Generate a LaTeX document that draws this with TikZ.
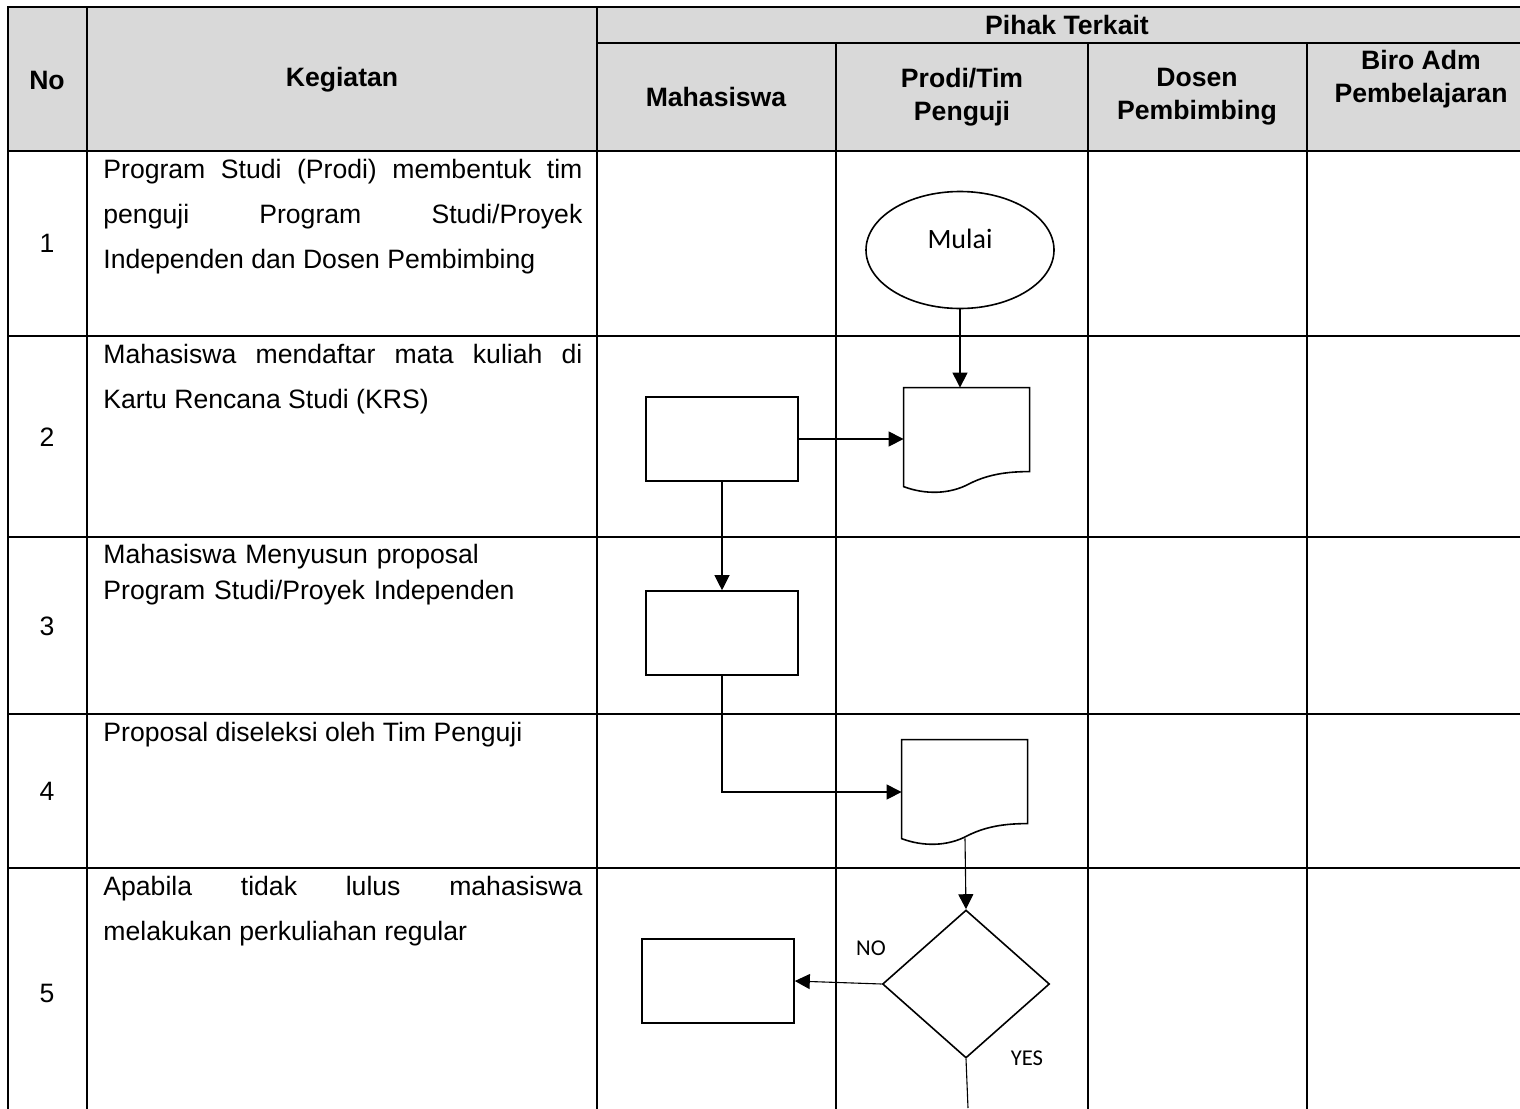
\documentclass[tikz,border=0pt]{standalone}
\usepackage{fontspec}
\setmainfont{Liberation Sans}
\newfontfamily\calibri{Carlito}
\usetikzlibrary{shapes.geometric,arrows.meta}
\definecolor{headgray}{HTML}{D9D9D9}
\tolerance=10000
\hbadness=10000

% document symbol drawn round an empty node
\newcommand{\dokumen}[1]{%
  \draw[shapeline, shift={(#1.north west)}] (0,0) -- (126,0) -- (126,84)
    .. controls (106,84) and (86,86) .. (66,96)
    .. controls (46,107) and (21,107) .. (0,99) -- cycle;}

\begin{document}
\begin{tikzpicture}[x=0.5pt, y=-0.5pt,
    tabline/.style = {line width=1pt, line cap=rect},
    shapeline/.style = {draw, line width=0.8pt},
    arr/.style = {line width=0.55pt, -{Triangle[length=7.5pt,width=7.5pt]}},
    proc/.style = {shapeline, rectangle, minimum width=76pt, minimum height=42pt, inner sep=0pt},
    dok/.style = {rectangle, minimum width=63pt, minimum height=52pt, inner sep=0pt},
    terminal/.style = {shapeline, ellipse, minimum width=94pt, minimum height=58.5pt, inner sep=0pt, font=\calibri\fontsize{14}{16}\selectfont},
    decide/.style = {shapeline, diamond, minimum width=83.5pt, minimum height=74pt, inner sep=0pt},
    head/.style = {font=\bfseries\fontsize{13.3}{16.5}\selectfont, align=center},
    num/.style = {font=\fontsize{13.3}{16}\selectfont},
    kegiatan/.style = {anchor=base west, text width=239.5pt, align=justify, inner sep=0pt, font=\fontsize{13.3}{22.5}\selectfont},
    flag/.style = {font=\calibri\fontsize{11.3}{13}\selectfont}]
  \useasboundingbox (0,0) rectangle (1520,1108);

  % table
  \fill[headgray] (8,7) rectangle (1520,151);
  \draw[tabline] (8,7) -- (1520,7);
  \draw[tabline] (597,43) -- (1520,43);
  \draw[tabline] (8,151) -- (1520,151);
  \draw[tabline] (8,336) -- (1520,336);
  \draw[tabline] (8,537) -- (1520,537);
  \draw[tabline] (8,714) -- (1520,714);
  \draw[tabline] (8,868) -- (1520,868);
  \draw[tabline] (8,7) -- (8,1108);
  \draw[tabline] (87,7) -- (87,1108);
  \draw[tabline] (597,7) -- (597,1108);
  \draw[tabline] (836,43) -- (836,1108);
  \draw[tabline] (1088,43) -- (1088,1108);
  \draw[tabline] (1307,43) -- (1307,1108);

  \node[head] (no) at (47,80) {No};
  \node[head] (keg) at (342,80) {Kegiatan};
  \node[head] (pihak) at (1067,25) {Pihak Terkait};
  \node[head] (mhs) at (716,97) {Mahasiswa};
  \node[head] (prodi) at (962,97) {Prodi/Tim\\Penguji};
  \node[head] (dosen) at (1197,97) {Dosen\\Pembimbing};
  \node[head] (biro) at (1421,79) {Biro Adm\\Pembelajaran};

  \node[num] (n1) at (47,243) {1};
  \node[num] (n2) at (47,437) {2};
  \node[num] (n3) at (47,626) {3};
  \node[num] (n4) at (47,791) {4};
  \node[num] (n5) at (47,993) {5};

  \node[kegiatan] (k1) at (103,178) {Program Studi (Prodi) membentuk tim\linebreak penguji Program Studi/Proyek\linebreak Independen dan Dosen Pembimbing};
  \node[kegiatan] (k2) at (103,363) {Mahasiswa mendaftar mata kuliah di\linebreak Kartu Rencana Studi (KRS)};
  \node[kegiatan, align=left, font=\fontsize{13.3}{18}\selectfont] (k3) at (103,563) {Mahasiswa Menyusun proposal\\Program Studi/Proyek Independen};
  \node[kegiatan] (k4) at (103,741) {Proposal diseleksi oleh Tim Penguji};
  \node[kegiatan] (k5) at (103,895) {Apabila tidak lulus mahasiswa\linebreak melakukan perkuliahan regular};

  % flow
  \node[terminal] (mulai) at (960,250) {\raisebox{11pt}{Mulai}};
  \node[proc] (krs) at (722,439) {};
  \node[dok] (krsdok) at (967,440) {};
  \node[proc] (proposal) at (722,633) {};
  \node[dok] (seleksi) at (965,792) {};
  \node[decide] (lulus) at (966,984) {};
  \node[proc] (reguler) at (718,981) {};
  \coordinate (lanjut) at (968,1108);
  \node[flag] (tidak) at (871,948) {NO};
  \node[flag] (ya) at (1027,1058) {YES};
  \dokumen{krsdok}
  \dokumen{seleksi}

  \draw[arr] (mulai.south) -- (mulai.south |- krsdok.north);
  \draw[arr] (krs.east) -- (krs.east -| krsdok.west);
  \draw[arr] (krs.south) -- (proposal.north);
  \draw[arr] (proposal.south) |- (seleksi.west);
  \draw[arr] ([yshift=3pt]seleksi.south) -- (lulus.north);
  \draw[arr] (lulus.west) -- (reguler.east);
  \draw[line width=0.55pt] (lulus.south) -- (lanjut);
\end{tikzpicture}
\end{document}
